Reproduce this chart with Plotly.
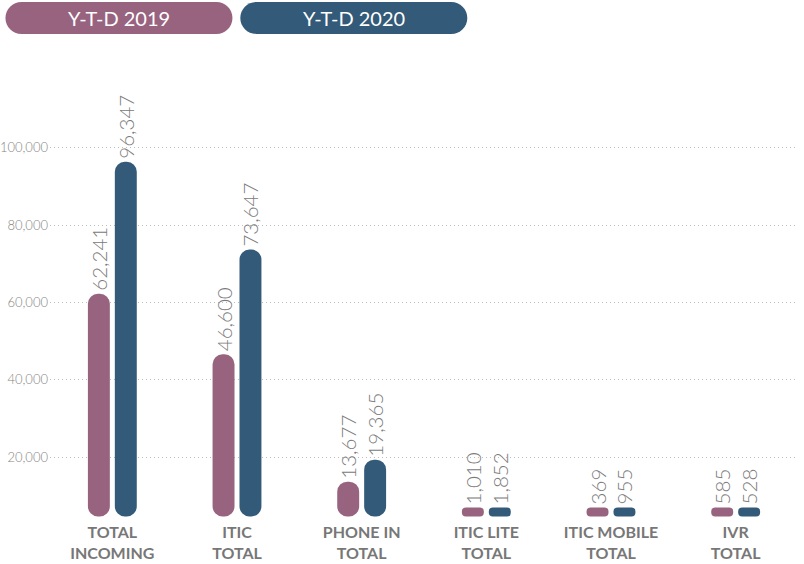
import plotly.graph_objects as go
import numpy as np

# ---- data ----
categories = ["TOTAL<br>INCOMING", "ITIC<br>TOTAL", "PHONE IN<br>TOTAL",
              "ITIC LITE<br>TOTAL", "ITIC MOBILE<br>TOTAL", "IVR<br>TOTAL"]
ytd_2019 = [62241, 46600, 13677, 1010, 369, 585]
ytd_2020 = [96347, 73647, 19365, 1852, 955, 528]
series_names = ["Y-T-D 2019", "Y-T-D 2020"]
y_ticks = [20000, 40000, 60000, 80000, 100000]

# ---- style ----
COLORS = ["#98637F", "#335A78"]
W, H = 804, 564
PLOT_L, PLOT_R = 49.5, 798
PLOT_T, PLOT_B = 60, 520
Y_MIN, Y_MAX = 3773, 122636
PX_PER_UNIT = (PLOT_B - PLOT_T) / (Y_MAX - Y_MIN)
BASE = 4700                      # where pills start
MIN_H = 9 / PX_PER_UNIT          # minimum visible pill height

fig = go.Figure()
offsets = [-0.196, 0.02]
for vals, name, col, off in zip([ytd_2019, ytd_2020], series_names, COLORS, offsets):
    v = np.array(vals, dtype=float)
    top = np.maximum(v, BASE + MIN_H)
    fig.add_trace(go.Bar(
        x=categories, y=top - BASE, base=BASE, width=0.176, offset=off,
        marker=dict(color=col, cornerradius=11, line=dict(width=0)),
        text=[f"{int(x):,}" for x in vals], texttemplate="%{text}",
        textposition="outside", textangle=-90, cliponaxis=False,
        constraintext="none",
        outsidetextfont=dict(family="Lato", size=20.5, color="#7a7a7a", weight=300),
        name=name, showlegend=False, hoverinfo="skip"))

fig.update_layout(
    width=W, height=H, barmode="overlay",
    margin=dict(l=PLOT_L, r=W - PLOT_R, t=PLOT_T, b=H - PLOT_B, autoexpand=False),
    plot_bgcolor="white", paper_bgcolor="white",
    font=dict(family="Lato", color="#7a7a7a"),
)
fig.update_xaxes(
    range=[-0.5, len(categories) - 0.5], showgrid=False, showline=False, zeroline=False,
    ticks="", tickfont=dict(family="Lato", size=16, color="#777777", weight=700),
    ticklabelstandoff=1,
)
fig.update_yaxes(
    range=[Y_MIN, Y_MAX], tickvals=y_ticks, tickformat=",", showline=False,
    zeroline=False, showgrid=True, gridcolor="#bdbdbd", griddash="1px,3px", gridwidth=1,
    tickfont=dict(family="Lato", size=13, color="#858585", weight=300),
    ticklabelstandoff=1,
)

# ---- pill legend ----
def pill_path(w, h):
    r = h / 2
    k = 0.5523 * r
    a = w / 2 - r
    return (f"M {-a},{-r} L {a},{-r} C {a + k},{-r} {a + r},{-k} {a + r},0 "
            f"C {a + r},{k} {a + k},{r} {a},{r} L {-a},{r} "
            f"C {-a - k},{r} {-a - r},{k} {-a - r},0 C {-a - r},{-k} {-a - k},{-r} {-a},{-r} Z")

legend_centers_px = [118.5, 353.5]
legend_cy_px = 18
for name, col, cx in zip(series_names, COLORS, legend_centers_px):
    xa = (cx - PLOT_L) / (PLOT_R - PLOT_L)
    ya = (PLOT_B - legend_cy_px) / (PLOT_B - PLOT_T)
    fig.add_shape(type="path", xref="paper", yref="paper", xsizemode="pixel",
                  ysizemode="pixel", xanchor=xa, yanchor=ya, path=pill_path(227, 32),
                  fillcolor=col, line=dict(width=0), layer="above")
    fig.add_annotation(x=xa, y=ya, xref="paper", yref="paper", text=name,
                       showarrow=False, xanchor="center", yanchor="middle",
                       font=dict(family="Lato", size=20, color="white", weight=400))

# remove the default 8px page margin so the figure fills the window exactly
fig.write_html("out.html", config={"displayModeBar": False},
               post_script="document.body.style.margin='0px';")
